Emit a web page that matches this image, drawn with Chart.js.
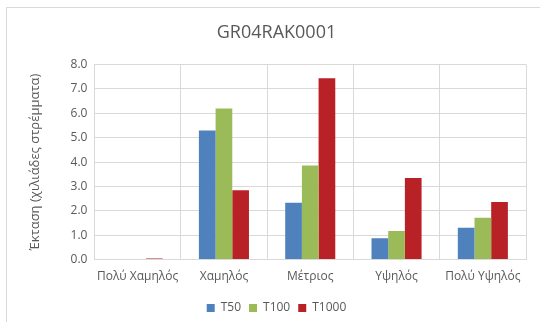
<!DOCTYPE html>
<html>
<head>
  <title>GR04RAK0001</title>
  <script src="https://cdn.jsdelivr.net/npm/chart.js"></script>
  <style>
    body {
      margin: 0;
      background: #fff;
    }
    #chart-wrapper {
      position: relative;
      width: 540px;
      height: 322px;
    }
  </style>
</head>
<body>
<div id="chart-wrapper">
  <canvas id="chart" width="540" height="322"></canvas>
</div>

<script>
  const categories = ['Πολύ Χαμηλός', 'Χαμηλός', 'Μέτριος', 'Υψηλός', 'Πολύ Υψηλός'];
  const t50 = [0, 5.3, 2.33, 0.88, 1.31];
  const t100 = [0, 6.2, 3.86, 1.17, 1.72];
  const t1000 = [0.05, 2.85, 7.44, 3.35, 2.36];

  const textColor = '#595959';
  const gridColor = '#d9d9d9';
  const font = 'Open Sans';

  // outer frame like the spreadsheet chart box
  const framePlugin = {
    id: 'frame',
    beforeDraw(chart) {
      const ctx = chart.ctx;
      ctx.save();
      ctx.strokeStyle = '#d9d9d9';
      ctx.lineWidth = 1;
      ctx.strokeRect(6.5, 7.5, 560, 340);
      ctx.restore();
    }
  };

  new Chart(document.getElementById('chart'), {
    type: 'bar',
    data: {
      labels: categories,
      datasets: [
        { label: 'T50', data: t50, backgroundColor: '#4f81bd' },
        { label: 'T100', data: t100, backgroundColor: '#9bbb59' },
        { label: 'T1000', data: t1000, backgroundColor: '#b82126' }
      ]
    },
    options: {
      responsive: false,
      animation: false,
      datasets: {
        bar: { categoryPercentage: 0.58, barPercentage: 1.0 }
      },
      layout: {
        padding: { left: 27, right: 14, top: 12, bottom: -2 }
      },
      plugins: {
        title: {
          display: true,
          text: 'GR04RAK0001',
          color: textColor,
          font: { family: font, size: 18, weight: 'normal' },
          padding: { top: 10, bottom: 21 }
        },
        legend: {
          position: 'bottom',
          labels: {
            color: textColor,
            font: { family: font, size: 12 },
            boxWidth: 8,
            boxHeight: 8,
            padding: 8
          }
        },
        tooltip: { enabled: false }
      },
      scales: {
        x: {
          offset: true,
          grid: { color: gridColor, offset: true, drawTicks: false },
          border: { color: gridColor },
          ticks: { color: textColor, font: { family: font, size: 12 }, padding: 10, maxRotation: 0 }
        },
        y: {
          min: 0,
          max: 8,
          grid: { color: gridColor, drawTicks: false },
          border: { display: false },
          ticks: {
            stepSize: 1,
            color: textColor,
            font: { family: font, size: 12 },
            padding: 7,
            callback: v => v.toFixed(1)
          },
          title: {
            display: true,
            text: 'Έκταση (χιλιάδες στρέμματα)',
            color: textColor,
            font: { family: font, size: 13 },
            padding: { top: 0, bottom: 21 }
          }
        }
      }
    },
    plugins: [framePlugin]
  });
</script>
</body>
</html>
